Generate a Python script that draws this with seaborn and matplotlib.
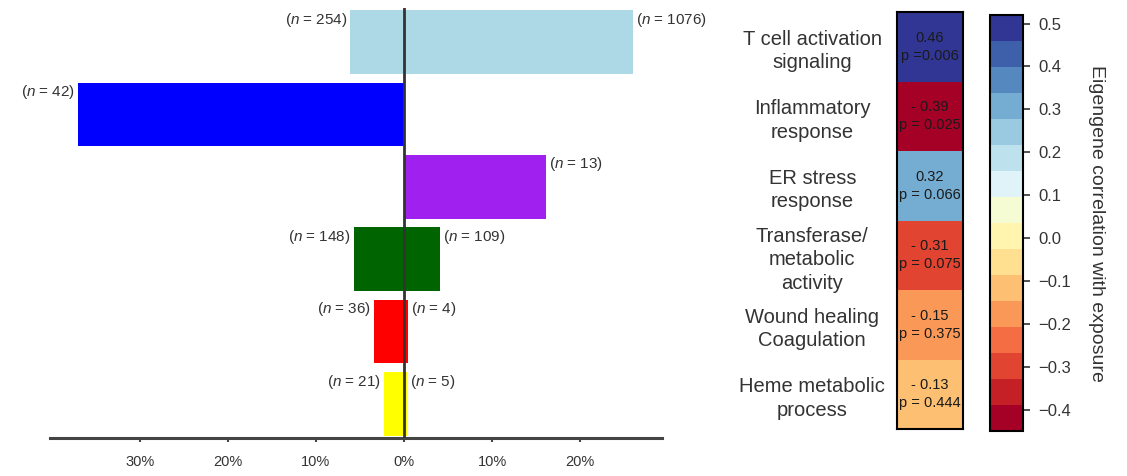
import numpy as np
import pandas as pd
import matplotlib
matplotlib.use("Agg")
import matplotlib.pyplot as plt
from matplotlib.ticker import FuncFormatter
import seaborn as sns

# Module gene counts and percentages (down-regulated < 0, up-regulated > 0)
modules = ["lightblue", "blue", "purple", "darkgreen", "red", "yellow"]
module_colors = ["#ADD8E6", "#0000FF", "#A020F0", "#006400", "#FF0000", "#FFFF00"]
pct_down = [-6.1, -37.0, 0.0, -5.7, -3.4, -2.3]
pct_up = [26.0, 0.0, 16.1, 4.1, 0.45, 0.35]
n_down = [254, 42, None, 148, 36, 21]
n_up = [1076, None, 13, 109, 4, 5]
pct_ticks = [-30, -20, -10, 0, 10, 20]

# Module eigengene correlation with exposure
pathways = ["T cell activation\nsignaling", "Inflammatory\nresponse", "ER stress\nresponse",
            "Transferase/\nmetabolic\nactivity", "Wound healing\nCoagulation",
            "Heme metabolic\nprocess"]
corr = [0.46, -0.39, 0.32, -0.31, -0.15, -0.13]
corr_text = ["0.46", "- 0.39", "0.32", "- 0.31", "- 0.15", "- 0.13"]
pvals = ["p =0.006", "p = 0.025", "p = 0.066", "p = 0.075", "p = 0.375", "p = 0.444"]
cbar_ticks = [-0.4, -0.3, -0.2, -0.1, 0.0, 0.1, 0.2, 0.3, 0.4, 0.5]

sns.set_style("white")
plt.rcParams["font.family"] = ["Liberation Sans", "DejaVu Sans"]
plt.rcParams["mathtext.fontset"] = "custom"
plt.rcParams["mathtext.it"] = "Liberation Sans:italic"
plt.rcParams["mathtext.rm"] = "Liberation Sans"

TXT = "#333333"
fig = plt.figure(figsize=(11.27, 4.76), dpi=100)

# ---- diverging bar chart ----
ax = fig.add_axes([0.0444, 0.0798, 0.5430, 0.9034])
df = pd.DataFrame({"module": modules, "down": pct_down, "up": pct_up})
for col in ["down", "up"]:
    sns.barplot(data=df, x=col, y="module", hue="module", palette=module_colors,
                order=modules, hue_order=modules, orient="h", width=0.88,
                saturation=1, errorbar=None, linewidth=0, legend=False, ax=ax)

ax.axvline(0, color="#333333", lw=2, zorder=5)
ax.set_xlim(-40.2, 29.3)
ax.set_ylim(5.47, -0.47)
ax.set_xlabel("")
ax.set_ylabel("")
ax.set_yticks([])
ax.set_xticks(pct_ticks)
ax.xaxis.set_major_formatter(FuncFormatter(lambda v, _: f"{abs(v):.0f}%"))
ax.tick_params(axis="x", bottom=True, length=3, width=1.5, color="#444444",
               pad=9, labelsize=10.5, labelcolor=TXT)
for side in ["left", "right", "top"]:
    ax.spines[side].set_visible(False)
ax.spines["bottom"].set_color("#444444")
ax.spines["bottom"].set_linewidth(2.2)

# gene counts next to each bar end
for i in range(len(modules)):
    ytxt = i - 0.44 + 0.13
    if n_down[i] is not None:
        ax.text(pct_down[i] - 0.35, ytxt, f"($n$ = {n_down[i]})", ha="right",
                va="center", fontsize=11, color=TXT)
    if n_up[i] is not None:
        ax.text(pct_up[i] + 0.35, ytxt, f"($n$ = {n_up[i]})", ha="left",
                va="center", fontsize=11, color=TXT)

# ---- correlation heatmap with discrete colour bar ----
hax = fig.add_axes([0.7959, 0.0987, 0.0586, 0.8760])
cax = fig.add_axes([0.8784, 0.0945, 0.0293, 0.8740])
cmap = plt.get_cmap("RdYlBu", 16)
annot = np.array([[f"{c}\n{p}"] for c, p in zip(corr_text, pvals)])
sns.heatmap(np.array(corr).reshape(-1, 1), ax=hax, cbar_ax=cax, cmap=cmap,
            vmin=-0.45, vmax=0.52, annot=annot, fmt="",
            annot_kws=dict(fontsize=10.5, color="#1a1a1a", linespacing=1.35),
            xticklabels=False, yticklabels=pathways,
            cbar_kws=dict(ticks=cbar_ticks))
for sp in hax.spines.values():
    sp.set_visible(True)
    sp.set_color("black")
    sp.set_linewidth(1.5)
hax.tick_params(axis="y", length=0, pad=61)
for lab in hax.get_yticklabels():
    lab.set_rotation(0)
    lab.set_ha("center")
    lab.set_va("center_baseline")
    lab.set_multialignment("center")
    lab.set_linespacing(1.3)
    lab.set_fontsize(14.5)
    lab.set_color(TXT)

cbar = hax.collections[0].colorbar
cbar.outline.set_visible(True)
cbar.outline.set_edgecolor("black")
cbar.outline.set_linewidth(1.5)
cbar.ax.yaxis.set_major_formatter(FuncFormatter(lambda v, _: f"{v:.1f}".replace("-", "\u2212")))
cbar.ax.tick_params(length=5, width=1.2, color="#333333", pad=6, labelsize=12,
                    labelcolor=TXT)
cbar.set_label("Eigengene correlation with exposure", rotation=270, fontsize=14,
               color=TXT, ha="center", va="center")
cbar.ax.yaxis.set_label_coords(3.24, 0.5)

fig.savefig("out.png", dpi=100)
